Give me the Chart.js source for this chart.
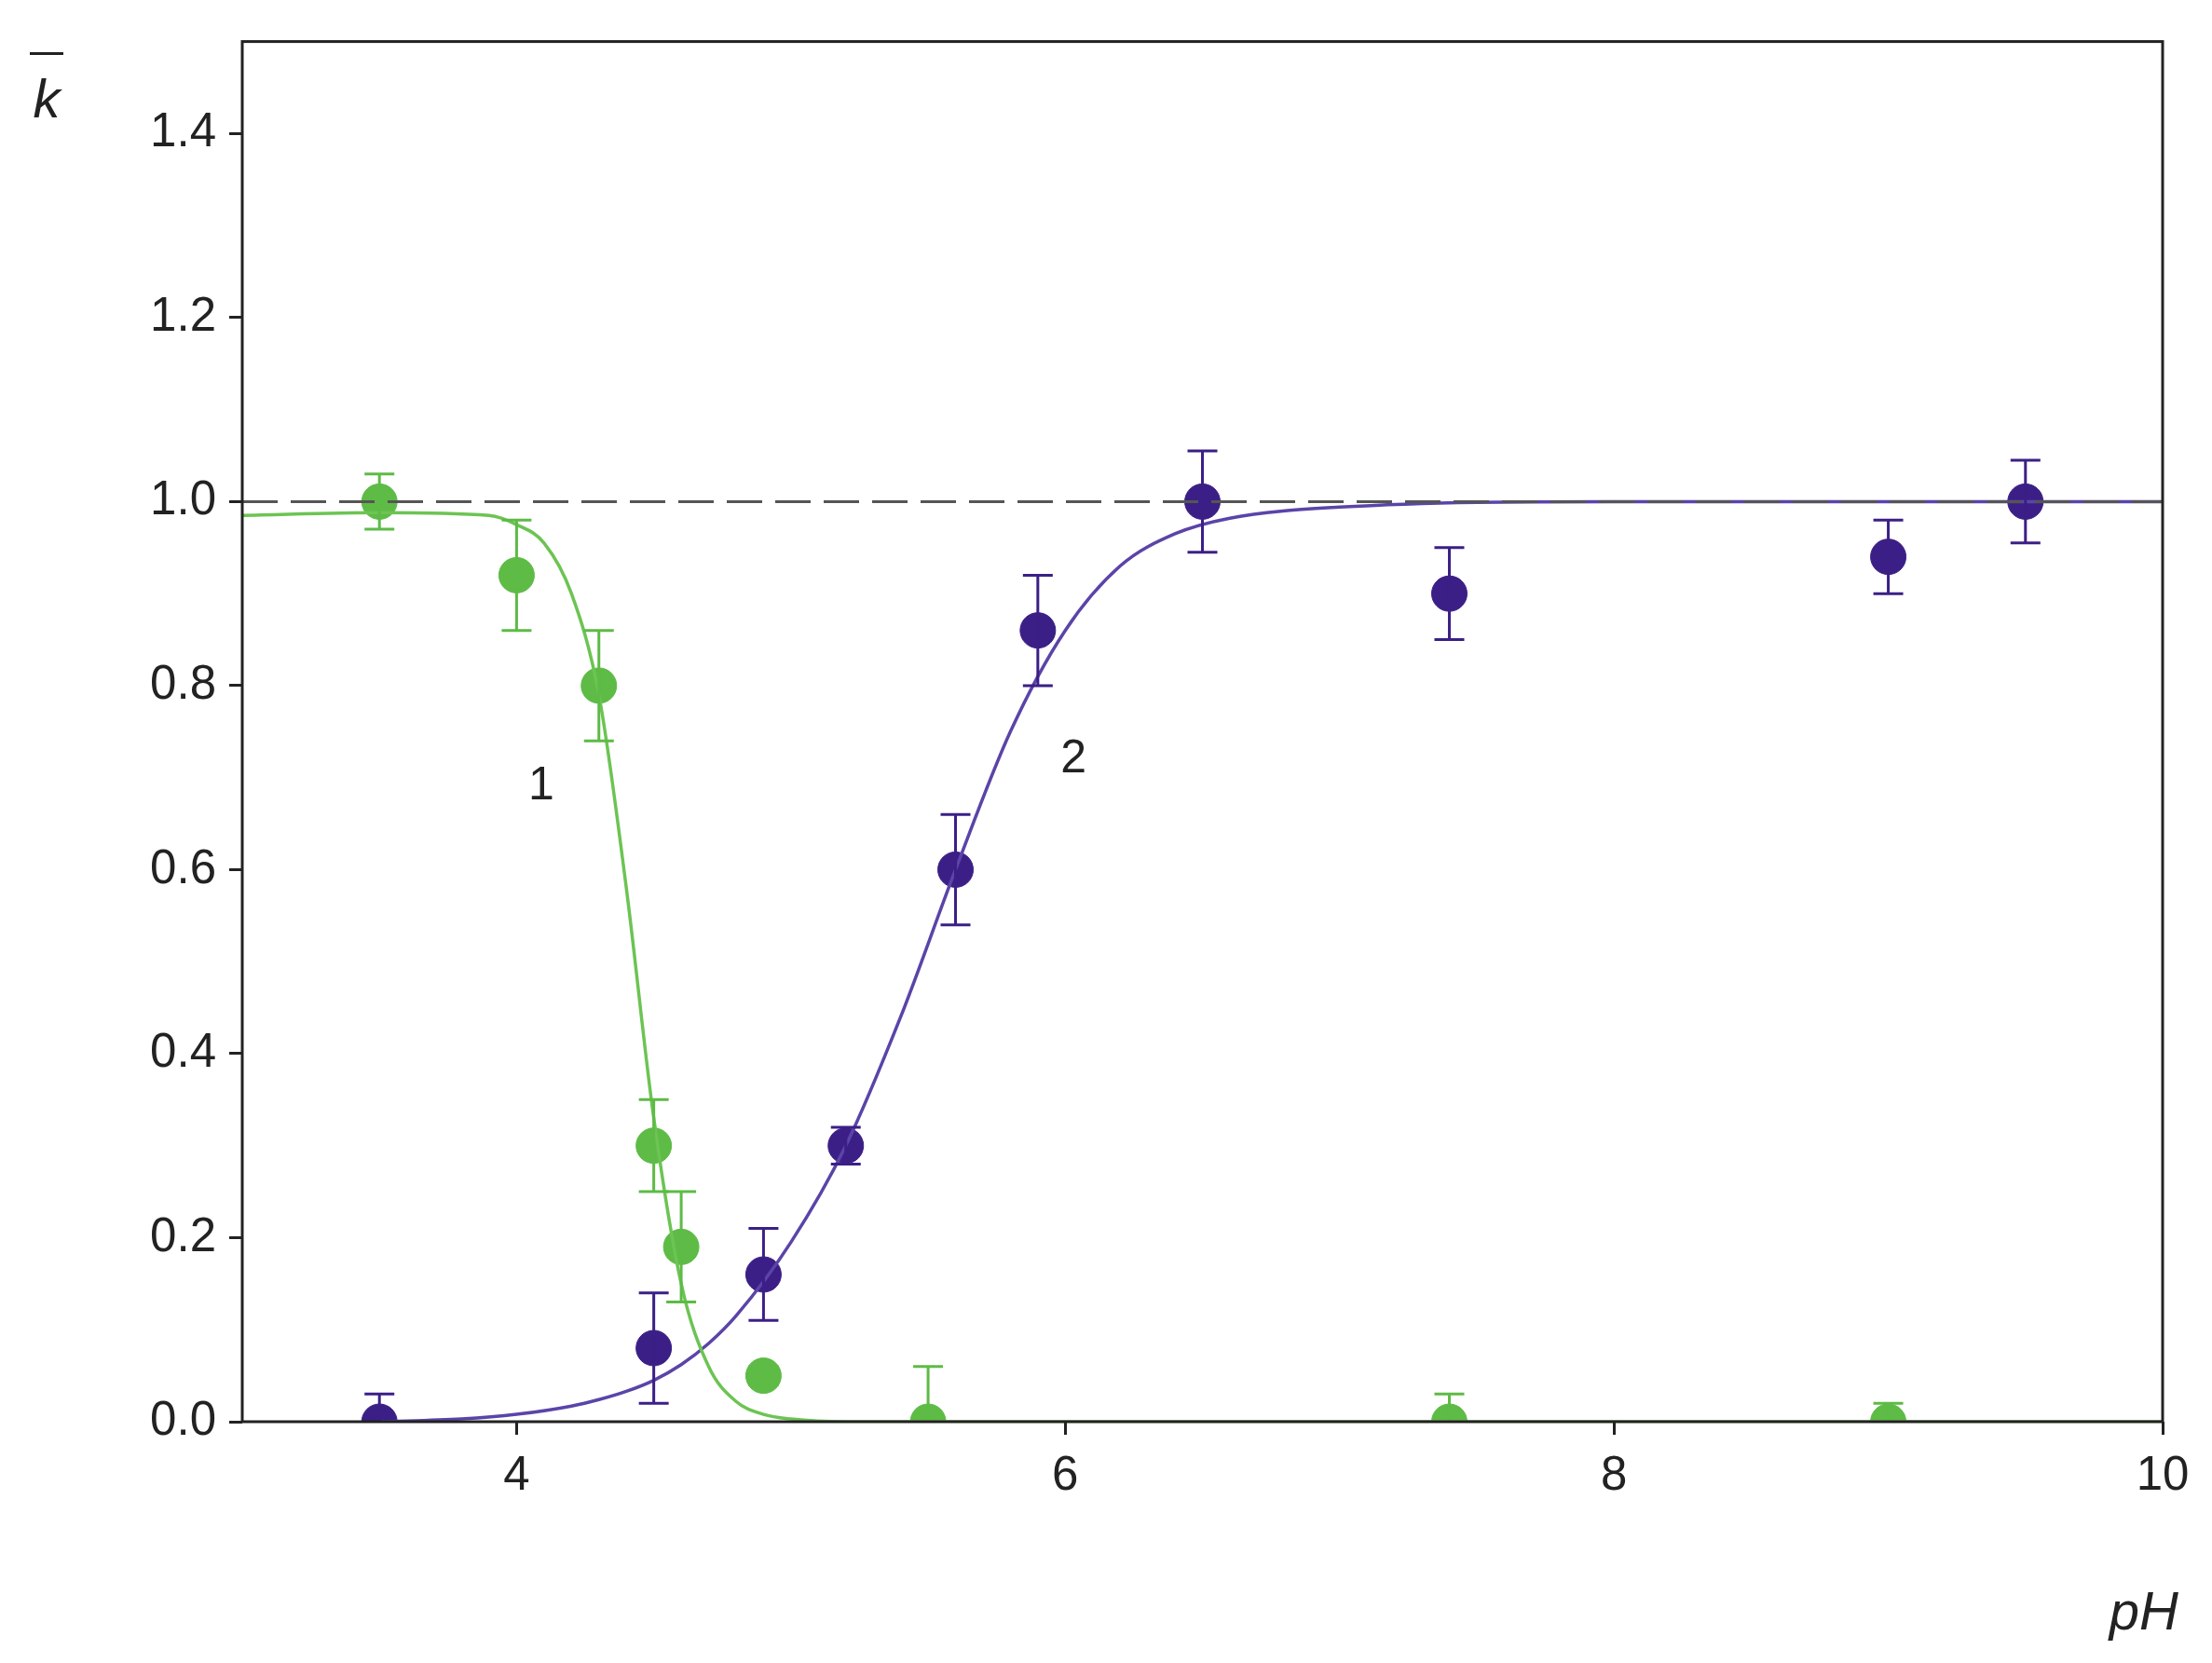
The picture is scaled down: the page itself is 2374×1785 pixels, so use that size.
<!DOCTYPE html>
<html>
<head>
<meta charset="utf-8">
<script src="https://cdn.jsdelivr.net/npm/chart.js@4"></script>
<style>
html, body { margin: 0; padding: 0; background: #fff; }
#wrap { width: 2374px; height: 1785px; }
</style>
</head>
<body>
<div id="wrap"><canvas id="grafico"></canvas></div>
<script>
// pontos medidos
var greenX = [3.5, 4.0, 4.3, 4.5, 4.6, 4.9, 5.5, 7.4, 9.0];
var greenY = [1.0, 0.92, 0.80, 0.30, 0.19, 0.05, 0.0, 0.0, 0.0];
var greenErrUp = [0.03, 0.06, 0.06, 0.05, 0.06, 0.01, 0.06, 0.03, 0.02];
var greenErrDown = [0.03, 0.06, 0.06, 0.05, 0.06, 0.01, 0.0, 0.0, 0.0];

var purpleX = [3.5, 4.5, 4.9, 5.2, 5.6, 5.9, 6.5, 7.4, 9.0, 9.5];
var purpleY = [0.0, 0.08, 0.16, 0.30, 0.60, 0.86, 1.0, 0.90, 0.94, 1.0];
var purpleErrUp = [0.03, 0.06, 0.05, 0.02, 0.06, 0.06, 0.055, 0.05, 0.04, 0.045];
var purpleErrDown = [0.0, 0.06, 0.05, 0.02, 0.06, 0.06, 0.055, 0.05, 0.04, 0.045];

// curvas ajustadas
var greenCurveX = [3.0, 3.5, 3.9, 4.0, 4.1, 4.2, 4.3, 4.4, 4.5, 4.6, 4.7, 4.8, 4.9, 5.0, 5.2, 10.0];
var greenCurveY = [0.985, 0.988, 0.985, 0.975, 0.955, 0.90, 0.79, 0.58, 0.33, 0.15, 0.06, 0.022, 0.008, 0.003, 0.0, 0.0];
var purpleCurveX = [3.5, 3.8, 4.0, 4.2, 4.3, 4.4, 4.5, 4.6, 4.7, 4.8, 5.0, 5.2, 5.4, 5.6, 5.8, 6.0, 6.2, 6.4, 6.6, 7.0, 8.0, 10.0];
var purpleCurveY = [0.0, 0.003, 0.008, 0.017, 0.024, 0.033, 0.045, 0.062, 0.085, 0.115, 0.195, 0.3, 0.44, 0.6, 0.75, 0.86, 0.93, 0.965, 0.982, 0.994, 1.0, 1.0];

var xTicks = [4, 6, 8, 10];
var refLine = [{x: 3, y: 1.0}, {x: 10, y: 1.0}];

var GREEN = '#5dbb46';
var GREEN_LINE = '#6cc453';
var PURPLE = '#3b1f86';
var PURPLE_LINE = '#5b44a8';
var FONT = 'Arial, "Liberation Sans", sans-serif';

function pts(xs, ys) {
    return xs.map(function (x, i) { return {x: x, y: ys[i]}; });
}

var errorBars = {
    id: 'errorBars',
    afterDatasetsDraw: function (chart) {
        var ctx = chart.ctx;
        var xs = chart.scales.x, ys = chart.scales.y;
        function draw(xArr, yArr, up, down, color) {
            ctx.save();
            ctx.strokeStyle = color;
            ctx.lineWidth = 3;
            xArr.forEach(function (x, i) {
                var px = xs.getPixelForValue(x);
                var yt = ys.getPixelForValue(yArr[i] + up[i]);
                var yb = ys.getPixelForValue(yArr[i] - down[i]);
                ctx.beginPath();
                ctx.moveTo(px, yt); ctx.lineTo(px, yb);
                if (up[i] > 0) { ctx.moveTo(px - 16, yt); ctx.lineTo(px + 16, yt); }
                if (down[i] > 0) { ctx.moveTo(px - 16, yb); ctx.lineTo(px + 16, yb); }
                ctx.stroke();
            });
            ctx.restore();
        }
        draw(greenX, greenY, greenErrUp, greenErrDown, GREEN);
        draw(purpleX, purpleY, purpleErrUp, purpleErrDown, PURPLE);
    }
};

var moldura = {
    id: 'moldura',
    afterDraw: function (chart) {
        var ctx = chart.ctx, a = chart.chartArea;
        var xs = chart.scales.x, ys = chart.scales.y;
        ctx.save();
        ctx.strokeStyle = '#222';
        ctx.lineWidth = 3;
        ctx.strokeRect(a.left, a.top, a.right - a.left, a.bottom - a.top);
        ctx.fillStyle = '#222';
        ctx.font = '50px ' + FONT;
        ctx.textAlign = 'center';
        ctx.textBaseline = 'middle';
        ctx.fillText('1', xs.getPixelForValue(4.09), ys.getPixelForValue(0.69));
        ctx.fillText('2', xs.getPixelForValue(6.03), ys.getPixelForValue(0.72));
        ctx.font = 'italic 58px ' + FONT;
        ctx.fillText('k', 50, 110);
        ctx.fillRect(32, 56, 36, 3);
        ctx.textAlign = 'right';
        ctx.fillText('pH', 2338, 1733);
        ctx.restore();
    }
};

new Chart(document.getElementById('grafico').getContext('2d'), {
    type: 'scatter',
    data: {
        datasets: [{
            data: refLine,
            showLine: true,
            borderColor: '#555',
            borderWidth: 3,
            borderDash: [38, 14],
            pointRadius: 0
        }, {
            data: pts(greenCurveX, greenCurveY),
            showLine: true,
            borderColor: GREEN_LINE,
            borderWidth: 3.5,
            cubicInterpolationMode: 'monotone',
            pointRadius: 0
        }, {
            data: pts(purpleCurveX, purpleCurveY),
            showLine: true,
            borderColor: PURPLE_LINE,
            borderWidth: 3.5,
            cubicInterpolationMode: 'monotone',
            pointRadius: 0
        }, {
            data: pts(greenX, greenY),
            backgroundColor: GREEN,
            borderColor: GREEN,
            pointRadius: 19
        }, {
            data: pts(purpleX, purpleY),
            backgroundColor: PURPLE,
            borderColor: PURPLE,
            pointRadius: 19
        }]
    },
    options: {
        responsive: true,
        maintainAspectRatio: false,
        animation: false,
        layout: { padding: { top: 42, right: 53, left: 0, bottom: 0 } },
        plugins: { legend: { display: false }, tooltip: { enabled: false } },
        scales: {
            x: {
                min: 3,
                max: 10,
                afterBuildTicks: function (axis) {
                    axis.ticks = xTicks.map(function (v) { return {value: v}; });
                },
                afterFit: function (axis) { axis.height = 259; },
                grid: { drawOnChartArea: false, tickLength: 14, color: '#222', lineWidth: 3 },
                border: { display: false },
                ticks: { color: '#222', font: { size: 51, family: FONT }, padding: 14 }
            },
            y: {
                min: 0,
                max: 1.5,
                afterBuildTicks: function (axis) {
                    axis.ticks = [0, 0.2, 0.4, 0.6, 0.8, 1.0, 1.2, 1.4].map(function (v) { return {value: v}; });
                },
                afterFit: function (axis) { axis.width = 260; },
                grid: { drawOnChartArea: false, tickLength: 14, color: '#222', lineWidth: 3 },
                border: { display: false },
                ticks: {
                    color: '#222',
                    font: { size: 51, family: FONT },
                    padding: 14,
                    callback: function (v) { return Number(v).toFixed(1); }
                }
            }
        }
    },
    plugins: [errorBars, moldura]
});
</script>
</body>
</html>
